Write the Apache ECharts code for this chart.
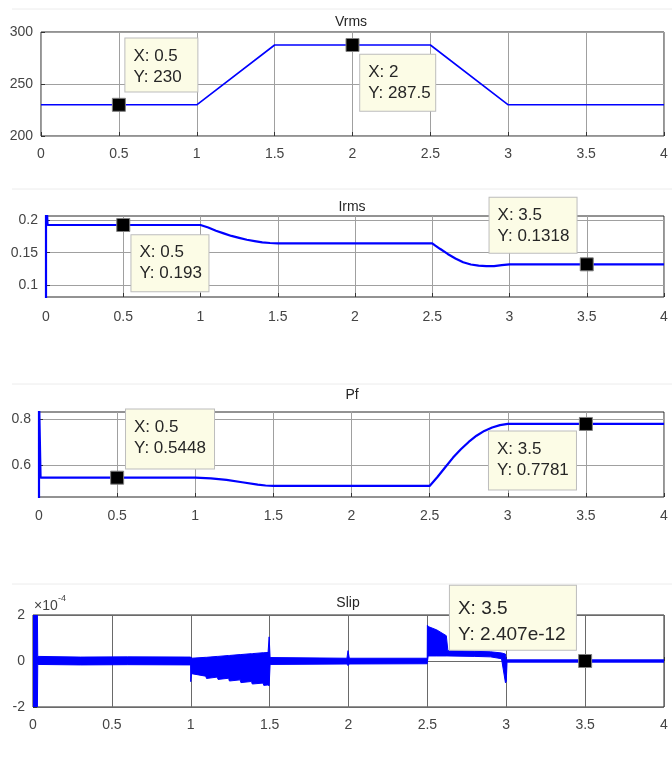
<!DOCTYPE html>
<html><head><meta charset="utf-8">
<script src="https://cdn.jsdelivr.net/npm/echarts@6/dist/echarts.min.js"></script>
<style>html,body{margin:0;padding:0;background:#fff}#c{width:672px;height:765px}</style>
</head><body><div id="c"></div>
<script>
// ---------- data ----------
const vrmsT = [0, 1, 1.5, 2.5, 3, 4];
const vrmsV = [230, 230, 287.5, 287.5, 230, 230];

const irmsT = [0, 0, 0.01, 0.5, 1.0, 1.05, 1.1, 1.15, 1.2, 1.25, 1.3, 1.35, 1.4, 1.45, 1.5, 2.5, 2.52, 2.55, 2.6, 2.65, 2.7, 2.75, 2.8, 2.85, 2.9, 2.95, 3.0, 3.5, 4];
const irmsV = [0.0, 0.25, 0.193, 0.193, 0.193, 0.189, 0.184, 0.180, 0.176, 0.173, 0.170, 0.168, 0.166, 0.165, 0.1645, 0.1645, 0.161, 0.156, 0.148, 0.141, 0.135, 0.1315, 0.1298, 0.129, 0.129, 0.1305, 0.1318, 0.1318, 0.1318];

const pfT = [0, 0, 0.01, 0.5, 1.0, 1.1, 1.2, 1.3, 1.4, 1.45, 1.5, 2.5, 2.55, 2.6, 2.65, 2.7, 2.75, 2.8, 2.85, 2.9, 2.95, 3.0, 3.5, 4];
const pfV = [0.3, 0.9, 0.5448, 0.5448, 0.5448, 0.542, 0.535, 0.525, 0.515, 0.511, 0.509, 0.509, 0.548, 0.59, 0.632, 0.668, 0.700, 0.727, 0.748, 0.763, 0.773, 0.7781, 0.7781, 0.7781];

// slip envelope, in units of 1e-4
const slipT  = [0, 0.028, 0.03, 0.3, 0.6, 0.999, 1.0, 1.005, 1.095, 1.1, 1.168, 1.173, 1.24, 1.245, 1.313, 1.318, 1.385, 1.39, 1.458, 1.463, 1.49, 1.497, 1.503, 1.99, 1.997, 2.005, 2.499, 2.5, 2.505, 2.56, 2.62, 2.63, 2.8, 2.9, 2.97, 2.995, 3.0, 3.005, 4];
const slipHi = [2, 2, 0.2, 0.17, 0.18, 0.17, 0.17, 0.12, 0.16, 0.16, 0.2, 0.2, 0.24, 0.24, 0.28, 0.28, 0.32, 0.32, 0.36, 0.36, 0.37, 1.05, 0.15, 0.12, 0.45, 0.12, 0.12, 1.56, 1.5, 1.35, 1.1, 0.45, 0.42, 0.4, 0.35, 0.3, 0.05, 0.05, 0.05];
const slipLo = [-2, -2, -0.15, -0.17, -0.16, -0.17, -0.9, -0.55, -0.66, -0.76, -0.7, -0.8, -0.75, -0.87, -0.82, -0.94, -0.89, -1.0, -0.96, -1.06, -1.04, -1.08, -0.15, -0.13, -0.2, -0.13, -0.12, -0.05, 0.22, 0.22, 0.22, 0.22, 0.2, 0.18, 0.1, -0.95, -0.9, -0.05, -0.05];
const slipScale = 1e-4;

const xTicks = [0, 0.5, 1, 1.5, 2, 2.5, 3, 3.5, 4];
const vrmsTicks = [200, 250, 300];
const irmsTicks = [0.1, 0.15, 0.2];
const pfTicks = [0.6, 0.8];
const slipTicks = [-2, 0, 2];

const vrmsTips = [[0.5, 230], [2, 287.5]];
const irmsTips = [[0.5, 0.193], [3.5, 0.1318]];
const pfTips = [[0.5, 0.5448], [3.5, 0.7781]];
const slipTips = [[3.5, 2.407e-12]];

const titles = ['Vrms', 'Irms', 'Pf', 'Slip'];

// ---------- layout ----------
const grids = [
  {left: 41, right: 8, top: 32, height: 104},
  {left: 46, right: 8, top: 216, height: 81},
  {left: 39, right: 8, top: 412, height: 85},
  {left: 33, right: 8, top: 615, height: 92}
];
const yRanges = [[200, 300], [0.081, 0.207], [0.461, 0.830], [-2, 2]];
const yTickSets = [vrmsTicks, irmsTicks, pfTicks, slipTicks];
const xLabelMargin = [11, 13, 12, 11];
const gridColors = ['#a0a0a0', '#a0a0a0', '#a0a0a0', '#6a6a6a'];
const titlePos = [[351, 22], [352, 207], [352, 395], [348, 603]];

// tip boxes: [posX, posY, width, height]
const tipLayouts = [
  [[13.5, -59.3, 58, 42], [14.7, 16.8, 61, 45]],
  [[15.2, 17.3, 63, 45], [-90.2, -59.5, 73, 44]],
  [[15.9, -61.2, 74, 48], [-89.9, 14.5, 73, 47]],
  [[-128.2, -68.2, 112, 50]]
];

const FONT = '"Liberation Sans", Arial, Helvetica, sans-serif';
const chart = echarts.init(document.getElementById('c'), null, {renderer: 'canvas'});

const xAxes = grids.map((g, i) => ({
  type: 'value', gridIndex: i, min: 0, max: 4, interval: 0.5,
  axisLine: {show: false},
  axisTick: {show: true, inside: true, length: 4, lineStyle: {color: '#333'}},
  axisLabel: {fontSize: 14, color: '#444', margin: xLabelMargin[i], fontFamily: FONT},
  splitLine: {show: true, lineStyle: {color: gridColors[i], width: 1}}
}));

const yAxes = grids.map((g, i) => ({
  type: 'value', gridIndex: i, min: yRanges[i][0], max: yRanges[i][1],
  axisLine: {show: false},
  axisTick: {show: true, inside: true, length: 4, lineStyle: {color: '#333'}, customValues: yTickSets[i]},
  axisLabel: {fontSize: 14, color: '#444', margin: 8, fontFamily: FONT, customValues: yTickSets[i]},
  splitLine: {show: true, lineStyle: {color: gridColors[i], width: 1}}
}));

function zip(a, b) { return a.map((v, k) => [v, b[k]]); }

function tipSeries(idx, tips, plotScale, fontSize, lh, pad) {
  return {
    type: 'scatter', xAxisIndex: idx, yAxisIndex: idx, z: 10,
    symbol: 'rect', symbolSize: 13,
    itemStyle: {color: '#000', borderColor: '#808080', borderWidth: 1, opacity: 1},
    silent: true,
    data: tips.map((t, k) => {
      const L = tipLayouts[idx][k];
      return {
        value: [t[0], t[1] / plotScale],
        label: {
          show: true, position: [L[0], L[1]], width: L[2], height: L[3],
          formatter: 'X: ' + t[0] + '\nY: ' + t[1],
          fontSize: fontSize, lineHeight: lh, color: '#262626', fontFamily: FONT,
          backgroundColor: '#fcfce6', borderColor: '#bdbdbd', borderWidth: 1,
          padding: pad, align: 'left', verticalAlign: 'top'
        }
      };
    })
  };
}

const lineBase = {type: 'line', symbol: 'none', silent: true, clip: true, z: 3};

const series = [
  Object.assign({}, lineBase, {xAxisIndex: 0, yAxisIndex: 0, data: zip(vrmsT, vrmsV), lineStyle: {color: '#0000ff', width: 1.6}}),
  tipSeries(0, vrmsTips, 1, 17, 21, [7, 6, 4, 8]),
  Object.assign({}, lineBase, {xAxisIndex: 1, yAxisIndex: 1, data: zip(irmsT, irmsV), lineStyle: {color: '#0000ff', width: 2.2}}),
  tipSeries(1, irmsTips, 1, 17, 21, [7, 6, 4, 8]),
  Object.assign({}, lineBase, {xAxisIndex: 2, yAxisIndex: 2, data: zip(pfT, pfV), lineStyle: {color: '#0000ff', width: 2.2}}),
  tipSeries(2, pfTips, 1, 17, 21, [7, 6, 4, 8]),
  {
    type: 'custom', xAxisIndex: 3, yAxisIndex: 3, clip: true, silent: true, z: 3,
    data: [[0, 0]],
    renderItem: function (params, api) {
      const pts = [];
      for (let k = 0; k < slipT.length; k++) pts.push(api.coord([slipT[k], slipHi[k]]));
      for (let k = slipT.length - 1; k >= 0; k--) pts.push(api.coord([slipT[k], slipLo[k]]));
      return {type: 'polygon', shape: {points: pts}, style: {fill: '#0000ff', stroke: '#0000ff', lineWidth: 1}};
    }
  },
  tipSeries(3, slipTips, slipScale, 19, 26, [10, 6, 4, 8])
];

const graphics = [];
titles.forEach((t, i) => {
  graphics.push({type: 'text', x: titlePos[i][0], y: titlePos[i][1], style: {text: t, fill: '#262626', font: '14px ' + FONT, textAlign: 'center', textVerticalAlign: 'middle'}});
});
graphics.push({type: 'text', x: 34, y: 606, style: {text: '×10', fill: '#444', font: '14px ' + FONT, textAlign: 'left', textVerticalAlign: 'middle'}});
graphics.push({type: 'text', x: 58, y: 599, style: {text: '-4', fill: '#444', font: '9px ' + FONT, textAlign: 'left', textVerticalAlign: 'middle'}});
// faint screenshot edges
[9, 189, 384, 584].forEach(y => {
  graphics.push({type: 'line', shape: {x1: 12, y1: y, x2: 672, y2: y}, style: {stroke: '#ececec', lineWidth: 1}, silent: true});
});

chart.setOption({
  animation: false,
  backgroundColor: '#fff',
  grid: grids.map(g => Object.assign({show: true, borderColor: '#262626', borderWidth: 1, backgroundColor: 'transparent', containLabel: false}, g)),
  xAxis: xAxes,
  yAxis: yAxes,
  series: series,
  graphic: graphics
});
</script></body></html>
